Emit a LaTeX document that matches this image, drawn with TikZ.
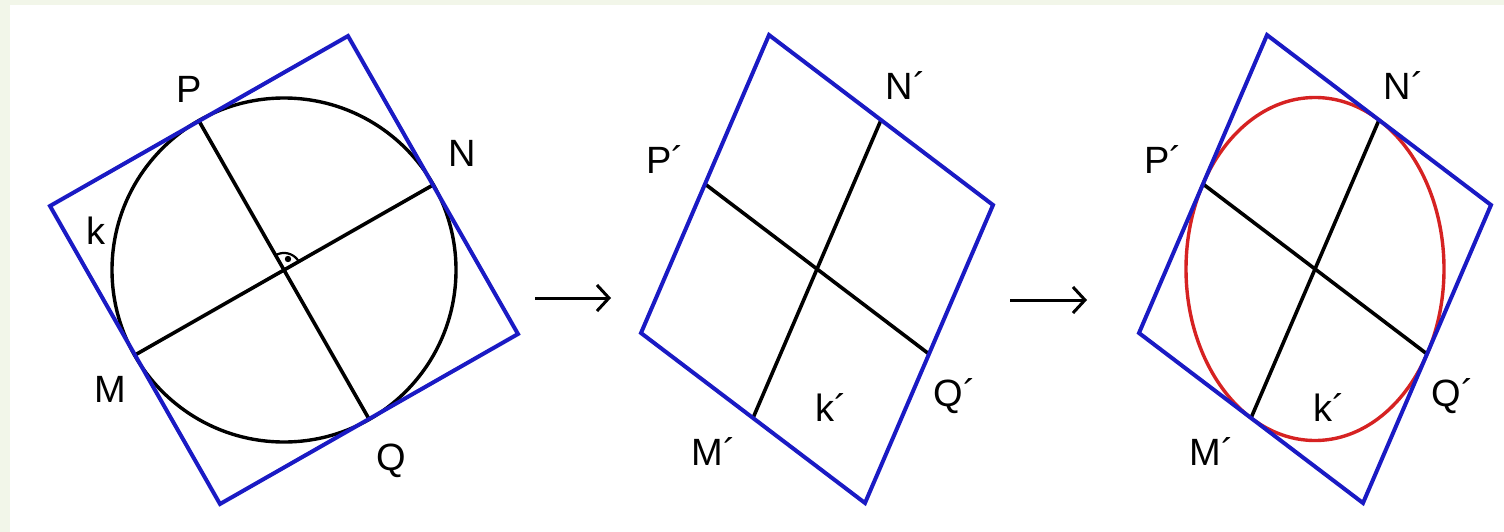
\documentclass[tikz,border=0pt]{standalone}
\usepackage{fontspec}
\setmainfont{Liberation Sans}
\usetikzlibrary{arrows.meta}
\definecolor{sqblue}{RGB}{26,26,196}
\definecolor{elred}{RGB}{214,34,34}
\definecolor{bggreen}{RGB}{242,246,233}
\begin{document}
\begin{tikzpicture}[x=1pt,y=-1pt,
  frame/.style={draw=sqblue, line width=4pt, line join=miter},
  axis/.style={draw=black, line width=3.6pt},
  curve/.style={line width=3.4pt},
  lbl/.style={font=\fontsize{38}{42}\selectfont, inner sep=0pt, anchor=center},
  arr/.style={draw=black, line width=3pt, -{Straight Barb[length=12pt,width=26pt]}}]
\fill[white] (0,0) rectangle (1504,532);
\fill[bggreen] (0,0) rectangle (10,532);
\fill[bggreen] (0,0) rectangle (1504,5);
\useasboundingbox (0,0) rectangle (1504,532);

% ---------- panel 1 ----------
\coordinate (C1) at (284,270);
\coordinate (N1) at (433,185);
\coordinate (P1) at (199,121);
\coordinate (Q1) at (369,419);
\coordinate (M1) at (135,355);
\coordinate (T1) at (348,36);
\coordinate (R1) at (518,334);
\coordinate (B1) at (220,504);
\coordinate (L1) at (50,206);
\draw[curve] (C1) circle[radius=172];
\draw[axis] (P1) -- (Q1);
\draw[axis] (M1) -- (N1);
\draw[line width=2.2pt] plot[domain=-30:-120, samples=25] ({284+17*cos(\x)},{270+17*sin(\x)});
\fill (288,259) circle[radius=3.2];
\draw[frame] (T1) -- (R1) -- (B1) -- (L1) -- cycle;
\node[lbl] (lP1) at (189,89) {P};
\node[lbl] (lN1) at (462,153) {N};
\node[lbl] (lk1) at (96,231) {k};
\node[lbl] (lM1) at (110,389) {M};
\node[lbl] (lQ1) at (391,461) {Q};

% ---------- arrows ----------
\coordinate (a1s) at (535,298);
\coordinate (a1e) at (611,298);
\coordinate (a2s) at (1010,300);
\coordinate (a2e) at (1087,300);
\draw[arr] (a1s) -- (a1e);
\draw[arr] (a2s) -- (a2e);

% ---------- panel 2 ----------
\coordinate (C2) at (817,269);
\coordinate (N2) at (881,120);
\coordinate (P2) at (705,184);
\coordinate (Q2) at (929,354);
\coordinate (M2) at (753,418);
\coordinate (T2) at (769,35);
\coordinate (R2) at (993,205);
\coordinate (B2) at (865,503);
\coordinate (L2) at (641,333);
\draw[axis] (P2) -- (Q2);
\draw[axis] (M2) -- (N2);
\draw[frame] (T2) -- (R2) -- (B2) -- (L2) -- cycle;
\node[lbl] (lP2) at (665,160) {P´};
\node[lbl] (lN2) at (906,86) {N´};
\node[lbl] (lQ2) at (955,396) {Q´};
\node[lbl] (lM2) at (714,452) {M´};
\node[lbl] (lk2) at (831,408) {k´};

% ---------- panel 3 ----------
\coordinate (C3) at (1315,269);
\coordinate (N3) at (1379,120);
\coordinate (P3) at (1203,184);
\coordinate (Q3) at (1427,354);
\coordinate (M3) at (1251,418);
\coordinate (T3) at (1267,35);
\coordinate (R3) at (1491,205);
\coordinate (B3) at (1363,503);
\coordinate (L3) at (1139,333);
\draw[curve, elred] (C3) ellipse[x radius=129, y radius=171.5];
\draw[axis] (P3) -- (Q3);
\draw[axis] (M3) -- (N3);
\draw[frame] (T3) -- (R3) -- (B3) -- (L3) -- cycle;
\node[lbl] (lP3) at (1163,160) {P´};
\node[lbl] (lN3) at (1404,86) {N´};
\node[lbl] (lQ3) at (1453,396) {Q´};
\node[lbl] (lM3) at (1212,452) {M´};
\node[lbl] (lk3) at (1329,408) {k´};
\end{tikzpicture}
\end{document}
